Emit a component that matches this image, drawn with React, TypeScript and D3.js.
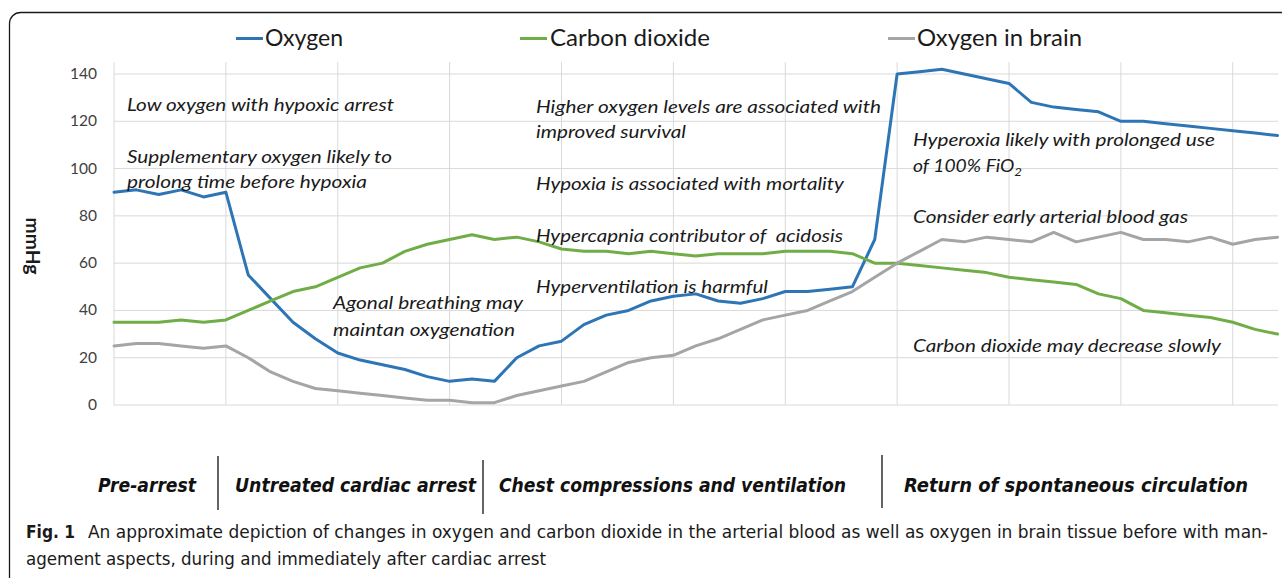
import * as d3 from "d3";
import React from "react";

// values, 53 time steps
const oxygen = [
  90, 91, 89, 91, 88, 90, 55, 45, 35, 28, 22, 19, 17, 15, 12, 10, 11, 10, 20,
  25, 27, 34, 38, 40, 44, 46, 47, 44, 43, 45, 48, 48, 49, 50, 70, 140, 141, 142,
  140, 138, 136, 128, 126, 125, 124, 120, 120, 119, 118, 117, 116, 115, 114,
];
const carbonDioxide = [
  35, 35, 35, 36, 35, 36, 40, 44, 48, 50, 54, 58, 60, 65, 68, 70, 72, 70, 71,
  69, 66, 65, 65, 64, 65, 64, 63, 64, 64, 64, 65, 65, 65, 64, 60, 60, 59, 58,
  57, 56, 54, 53, 52, 51, 47, 45, 40, 39, 38, 37, 35, 32, 30,
];
const oxygenBrain = [
  25, 26, 26, 25, 24, 25, 20, 14, 10, 7, 6, 5, 4, 3, 2, 2, 1, 1, 4, 6, 8, 10,
  14, 18, 20, 21, 25, 28, 32, 36, 38, 40, 44, 48, 54, 60, 65, 70, 69, 71, 70,
  69, 73, 69, 71, 73, 70, 70, 69, 71, 68, 70, 71,
];
const yTicks = [0, 20, 40, 60, 80, 100, 120, 140];

const seriesNames = ["Oxygen", "Carbon dioxide", "Oxygen in brain"];
const seriesColors = ["#2e75b6", "#70ad47", "#a5a5a5"];

const phases = [
  "Pre-arrest",
  "Untreated cardiac arrest",
  "Chest compressions and ventilation",
  "Return of spontaneous circulation",
];

const W = 1282;
const H = 578;
const chartFont = "Lato, 'Open Sans', sans-serif";
const condFont =
  "'DejaVu Sans Condensed', 'Liberation Sans Narrow', Roboto, sans-serif";

const App: React.FC = () => {
  const n = oxygen.length;
  const x = d3.scaleLinear().domain([0, n - 1]).range([114, 1277.5]);
  const y = d3.scaleLinear().domain([0, 140]).range([405, 74]);

  const line = d3
    .line<number>()
    .x((_, i) => x(i))
    .y((d) => y(d));

  const allSeries = [oxygen, carbonDioxide, oxygenBrain];
  const vTicks = d3.range(0, n, 5);

  // legend: [lineStart, textStart, textWidth]
  const legendPos = [
    [236, 265, 78],
    [520, 550, 160],
    [888, 917, 165],
  ];

  // annotations: text, x, baseline, width
  const notes: [string, number, number, number][] = [
    ["Low oxygen with hypoxic arrest", 127, 111, 267],
    ["Supplementary oxygen likely to", 127, 163, 265],
    ["prolong time before hypoxia", 127, 188, 240],
    ["Agonal breathing may", 333, 309, 190],
    ["maintan oxygenation", 333, 336, 182],
    ["Higher oxygen levels are associated with", 536, 113, 345],
    ["improved survival", 536, 138, 150],
    ["Hypoxia is associated with mortality", 536, 190, 308],
    ["Hypercapnia contributor of  acidosis", 536, 242, 307],
    ["Hyperventilation is harmful", 536, 293, 232],
    ["Hyperoxia likely with prolonged use", 913, 146, 302],
    ["Consider early arterial blood gas", 913, 223, 275],
    ["Carbon dioxide may decrease slowly", 913, 352, 308],
  ];

  // phase labels: start, end
  const phasePos = [
    [98, 196],
    [235, 476],
    [499, 846],
    [904, 1248],
  ];
  const separators = [
    [218, 456, 510],
    [483, 460, 514],
    [882, 455, 508],
  ];

  return (
    <svg
      width={W}
      height={H}
      style={{ position: "absolute", left: 0, top: 0, background: "#fff" }}
    >
      <rect
        x={9.5}
        y={12.5}
        width={1310}
        height={620}
        rx={11}
        fill="none"
        stroke="#1a1a1a"
        strokeWidth={1.3}
      />

      {/* gridlines */}
      <g stroke="#d9d9d9" strokeWidth={1}>
        {yTicks.map((t) => (
          <line key={t} x1={114} x2={1278} y1={y(t)} y2={y(t)} />
        ))}
        {vTicks.map((i) => (
          <line key={i} x1={x(i)} x2={x(i)} y1={62} y2={y(0)} />
        ))}
      </g>

      {/* y tick labels */}
      <g fontFamily={chartFont} fontSize={15.5} fill="#404040" textAnchor="end">
        {yTicks.map((t) => (
          <text key={t} x={97} y={y(t) + 5}>
            {t}
          </text>
        ))}
      </g>
      <text
        transform="translate(33,246) rotate(90)"
        textAnchor="middle"
        dominantBaseline="central"
        fontFamily={chartFont}
        fontWeight="bold"
        fontSize={18}
        fill="#1a1a1a"
        textLength={57}
        lengthAdjust="spacingAndGlyphs"
      >
        mmHg
      </text>

      {/* series */}
      {allSeries.map((s, k) => (
        <path
          key={k}
          d={line(s) || ""}
          fill="none"
          stroke={seriesColors[k]}
          strokeWidth={3}
          strokeLinejoin="round"
          strokeLinecap="round"
        />
      ))}

      {/* legend */}
      {seriesNames.map((name, k) => (
        <g key={name}>
          <line
            x1={legendPos[k][0]}
            x2={legendPos[k][0] + 27}
            y1={38.5}
            y2={38.5}
            stroke={seriesColors[k]}
            strokeWidth={3}
          />
          <text
            x={legendPos[k][1]}
            y={46}
            fontFamily={chartFont}
            fontSize={22.5}
            fill="#1a1a1a"
            textLength={legendPos[k][2]}
            lengthAdjust="spacingAndGlyphs"
          >
            {name}
          </text>
        </g>
      ))}

      {/* annotations */}
      <g fontFamily={chartFont} fontStyle="italic" fontSize={17.5} fill="#1a1a1a">
        {notes.map(([t, nx, ny, w]) => (
          <text
            key={t}
            x={nx}
            y={ny}
            textLength={w}
            lengthAdjust="spacingAndGlyphs"
            style={{ whiteSpace: "pre" }}
          >
            {t}
          </text>
        ))}
        <text x={913} y={172} textLength={109} lengthAdjust="spacingAndGlyphs">
          of 100% FiO
          <tspan fontSize={12} dy={4}>
            2
          </tspan>
        </text>
      </g>

      {/* phases */}
      <g
        fontFamily={condFont}
        fontStyle="italic"
        fontWeight="bold"
        fontSize={19}
        fill="#111"
      >
        {phases.map((p, k) => (
          <text
            key={p}
            x={phasePos[k][0]}
            y={492}
            textLength={phasePos[k][1] - phasePos[k][0]}
            lengthAdjust="spacingAndGlyphs"
          >
            {p}
          </text>
        ))}
      </g>
      <g stroke="#111" strokeWidth={1.3}>
        {separators.map(([sx, y1, y2]) => (
          <line key={sx} x1={sx} x2={sx} y1={y1} y2={y2} />
        ))}
      </g>

      {/* caption */}
      <g fontFamily={condFont} fontSize={17} fill="#1a1a1a">
        <text x={26} y={538} fontWeight="bold" textLength={49} lengthAdjust="spacingAndGlyphs">
          Fig. 1
        </text>
        <text x={88} y={538} textLength={1180} lengthAdjust="spacingAndGlyphs">
          An approximate depiction of changes in oxygen and carbon dioxide in the
          arterial blood as well as oxygen in brain tissue before with man-
        </text>
        <text x={26} y={565} textLength={520} lengthAdjust="spacingAndGlyphs">
          agement aspects, during and immediately after cardiac arrest
        </text>
      </g>
    </svg>
  );
};

export default App;
